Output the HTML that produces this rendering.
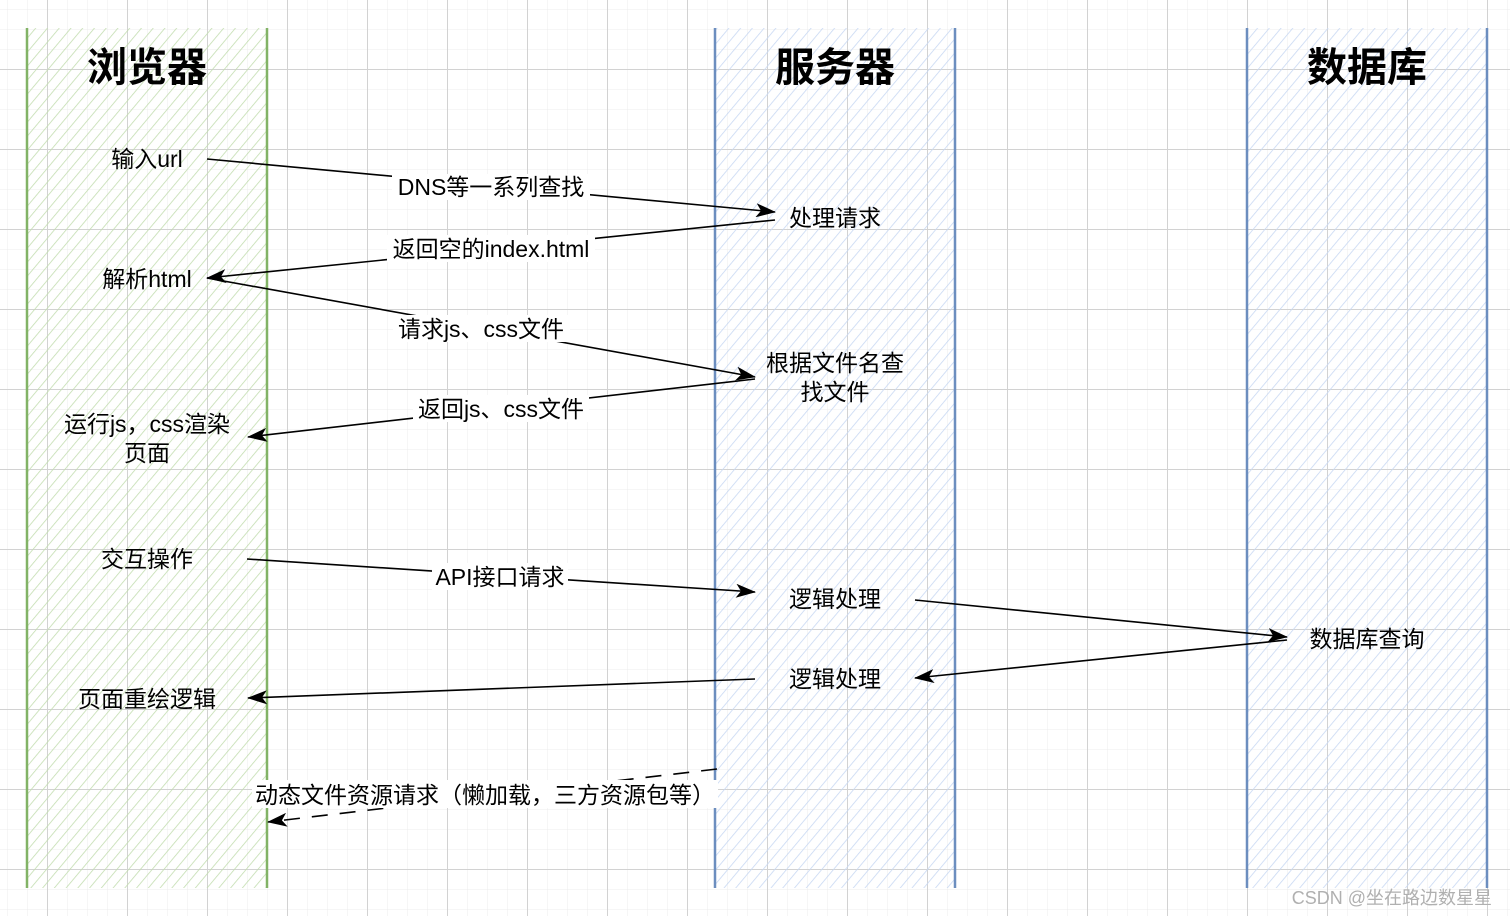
<!DOCTYPE html>
<html><head><meta charset="utf-8"><style>
html,body{margin:0;padding:0;background:#fff}
svg{display:block}
text{font-family:"Liberation Sans","Noto Sans CJK SC",sans-serif;fill:#000}
</style></head><body>
<svg width="1510" height="916" viewBox="0 0 1510 916" xmlns="http://www.w3.org/2000/svg">
<defs>
<pattern id="minor" width="20" height="20" patternUnits="userSpaceOnUse" x="7" y="9">
<path d="M0 0H20M0 0V20" stroke="#ececec" stroke-width="1" fill="none"/>
</pattern>
<pattern id="major" width="80" height="80" patternUnits="userSpaceOnUse" x="47" y="69">
<path d="M0 0.5H80M0.5 0V80" stroke="#d2d2d2" stroke-width="1" fill="none"/>
</pattern>
<pattern id="hg" width="9" height="9" patternUnits="userSpaceOnUse" patternTransform="rotate(40)">
<line x1="0" y1="0" x2="0" y2="9" stroke="#c3ddb0" stroke-width="1.6"/>
</pattern>
<pattern id="hb" width="9" height="9" patternUnits="userSpaceOnUse" patternTransform="rotate(40)">
<line x1="0" y1="0" x2="0" y2="9" stroke="#c8d8f3" stroke-width="1.6"/>
</pattern>
<marker id="ar" viewBox="0 0 20 14" refX="19" refY="7" markerWidth="20" markerHeight="14" markerUnits="userSpaceOnUse" orient="auto">
<path d="M0 0L20 7L0 14L5 7Z" fill="#000"/>
</marker>
</defs>
<rect width="1510" height="916" fill="url(#minor)"/>
<rect width="1510" height="916" fill="url(#major)"/>

<rect x="27" y="28" width="240" height="860" fill="url(#hg)"/>
<line x1="27" y1="28" x2="27" y2="888" stroke="#82b366" stroke-width="2.5"/>
<line x1="267" y1="28" x2="267" y2="888" stroke="#82b366" stroke-width="2.5"/>
<rect x="715" y="28" width="240" height="860" fill="url(#hb)"/>
<line x1="715" y1="28" x2="715" y2="888" stroke="#6c8ebf" stroke-width="2.5"/>
<line x1="955" y1="28" x2="955" y2="888" stroke="#6c8ebf" stroke-width="2.5"/>
<rect x="1247" y="28" width="240" height="860" fill="url(#hb)"/>
<line x1="1247" y1="28" x2="1247" y2="888" stroke="#6c8ebf" stroke-width="2.5"/>
<line x1="1487" y1="28" x2="1487" y2="888" stroke="#6c8ebf" stroke-width="2.5"/>

<g font-weight="bold" font-size="40" text-anchor="middle">
<text x="147" y="81">浏览器</text>
<text x="835" y="81">服务器</text>
<text x="1367" y="81">数据库</text>
</g>

<g stroke="#000" stroke-width="1.6" fill="none">
<line x1="207" y1="159" x2="775" y2="212" marker-end="url(#ar)"/>
<line x1="775" y1="220" x2="207" y2="278" marker-end="url(#ar)"/>
<line x1="207" y1="278" x2="755" y2="377" marker-end="url(#ar)"/>
<line x1="755" y1="379" x2="248" y2="437" marker-end="url(#ar)"/>
<line x1="247" y1="559" x2="755" y2="592" marker-end="url(#ar)"/>
<line x1="915" y1="600" x2="1287" y2="637" marker-end="url(#ar)"/>
<line x1="1287" y1="640" x2="915" y2="678" marker-end="url(#ar)"/>
<line x1="755" y1="679" x2="248" y2="698" marker-end="url(#ar)"/>
<line x1="717" y1="769" x2="268" y2="822" stroke-dasharray="16,12" marker-end="url(#ar)"/>
</g>

<g fill="#fff">
<rect x="392" y="174" width="198" height="26"/>
<rect x="387" y="235" width="208" height="27"/>
<rect x="393" y="315" width="177" height="27"/>
<rect x="413" y="395" width="176" height="27"/>
<rect x="432" y="563" width="136" height="27"/>
<rect x="252" y="780" width="466" height="28"/>
</g>

<g font-size="23" text-anchor="middle">
<text x="491" y="195">DNS等一系列查找</text>
<text x="491" y="257">返回空的index.html</text>
<text x="481" y="337">请求js、css文件</text>
<text x="501" y="417">返回js、css文件</text>
<text x="500" y="585">API接口请求</text>
<text x="485" y="803">动态文件资源请求（懒加载，三方资源包等）</text>

<text x="147" y="167">输入url</text>
<text x="147" y="287">解析html</text>
<text x="147" y="432">运行js，css渲染</text>
<text x="147" y="461">页面</text>
<text x="147" y="567">交互操作</text>
<text x="147" y="707">页面重绘逻辑</text>

<text x="835" y="226">处理请求</text>
<text x="835" y="371">根据文件名查</text>
<text x="835" y="400">找文件</text>
<text x="835" y="607">逻辑处理</text>
<text x="835" y="687">逻辑处理</text>

<text x="1367" y="647">数据库查询</text>
</g>
<text x="1492" y="904" font-size="18" text-anchor="end" style="fill:#b0b0b0">CSDN @坐在路边数星星</text>
</svg>
</body></html>
